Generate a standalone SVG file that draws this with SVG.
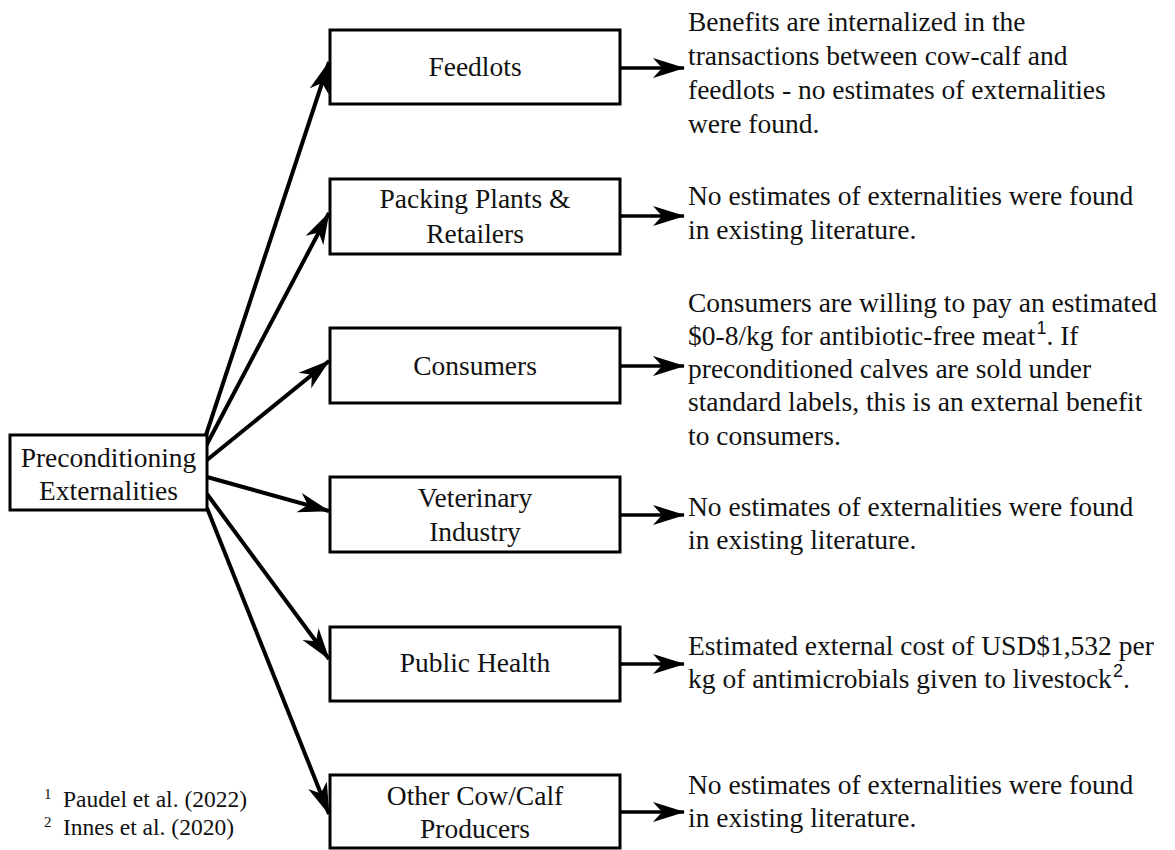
<svg xmlns="http://www.w3.org/2000/svg" width="1175" height="850" viewBox="0 0 1175 850">
<style>
  .box{fill:#fff;stroke:#000;stroke-width:3}
  .lbl{font-family:'Liberation Serif','Times New Roman',Times,'DejaVu Serif','Noto Serif',serif;font-size:27.5px;fill:#111;text-anchor:middle}
  .txt{font-family:'Liberation Serif','Times New Roman',Times,'DejaVu Serif','Noto Serif',serif;font-size:27.5px;fill:#111}
  .fn{font-family:'Liberation Serif','Times New Roman',Times,'DejaVu Serif','Noto Serif',serif;font-size:23.5px;fill:#111}
  .fnsup{font-family:'Liberation Serif','Times New Roman',Times,serif;font-size:15px;fill:#111}
  .sup{font-family:'Liberation Sans',Arial,sans-serif;font-size:18px}
  .edge{fill:none;stroke:#000;stroke-width:4;marker-end:url(#ah)}
  .edge2{fill:none;stroke:#000;stroke-width:3.5;marker-end:url(#ah)}
</style>
<defs>
  <marker id="ah" markerUnits="userSpaceOnUse" markerWidth="32" markerHeight="22" viewBox="0 0 32 22" refX="31" refY="11" orient="auto">
    <path d="M0,1 L32,11 L0,21 L9,11 z" fill="#000"/>
  </marker>
</defs>
<rect width="1175" height="850" fill="#fff"/>

<g id="connectors">
  <line class="edge" x1="205" y1="438" x2="329" y2="62"/>
  <line class="edge" x1="206" y1="446" x2="329" y2="213"/>
  <line class="edge" x1="207" y1="460" x2="329" y2="361"/>
  <line class="edge" x1="207" y1="477" x2="329" y2="511"/>
  <line class="edge" x1="207" y1="494" x2="329" y2="659"/>
  <line class="edge" x1="207" y1="508" x2="329" y2="814"/>
  <line class="edge2" x1="620" y1="68" x2="684" y2="68"/>
  <line class="edge2" x1="620" y1="216" x2="684" y2="216"/>
  <line class="edge2" x1="620" y1="366" x2="684" y2="366"/>
  <line class="edge2" x1="620" y1="515" x2="684" y2="515"/>
  <line class="edge2" x1="620" y1="664" x2="684" y2="664"/>
  <line class="edge2" x1="620" y1="812" x2="684" y2="812"/>
</g>

<g id="node-root">
  <rect class="box" x="10" y="435" width="197" height="75"/>
  <text class="lbl" x="108.5" y="467">Preconditioning</text>
  <text class="lbl" x="108.5" y="500">Externalities</text>
</g>

<g id="node-feedlots">
  <rect class="box" x="330" y="30" width="290" height="74"/>
  <text class="lbl" x="475" y="76">Feedlots</text>
</g>
<g id="node-packing">
  <rect class="box" x="330" y="179" width="290" height="75"/>
  <text class="lbl" x="475" y="208">Packing Plants &amp;</text>
  <text class="lbl" x="475" y="243">Retailers</text>
</g>
<g id="node-consumers">
  <rect class="box" x="330" y="328" width="290" height="75"/>
  <text class="lbl" x="475" y="375">Consumers</text>
</g>
<g id="node-veterinary">
  <rect class="box" x="330" y="477" width="290" height="75"/>
  <text class="lbl" x="475" y="507">Veterinary</text>
  <text class="lbl" x="475" y="541">Industry</text>
</g>
<g id="node-publichealth">
  <rect class="box" x="330" y="627" width="290" height="74"/>
  <text class="lbl" x="475" y="672">Public Health</text>
</g>
<g id="node-othercowcalf">
  <rect class="box" x="330" y="775" width="290" height="73"/>
  <text class="lbl" x="475" y="805">Other Cow/Calf</text>
  <text class="lbl" x="475" y="838">Producers</text>
</g>

<g id="text-feedlots">
  <text class="txt" x="688" y="31">Benefits are internalized in the</text>
  <text class="txt" x="688" y="65">transactions between cow-calf and</text>
  <text class="txt" x="688" y="99">feedlots - no estimates of externalities</text>
  <text class="txt" x="688" y="133">were found.</text>
</g>
<g id="text-packing">
  <text class="txt" x="688" y="205">No estimates of externalities were found</text>
  <text class="txt" x="688" y="239">in existing literature.</text>
</g>
<g id="text-consumers">
  <text class="txt" x="688" y="312">Consumers are willing to pay an estimated</text>
  <text class="txt" x="688" y="345">$0-8/kg for antibiotic-free meat<tspan class="sup" dx="1" dy="-11">1</tspan><tspan dy="11">. If</tspan></text>
  <text class="txt" x="688" y="378">preconditioned calves are sold under</text>
  <text class="txt" x="688" y="411">standard labels, this is an external benefit</text>
  <text class="txt" x="688" y="445">to consumers.</text>
</g>
<g id="text-veterinary">
  <text class="txt" x="688" y="516">No estimates of externalities were found</text>
  <text class="txt" x="688" y="549">in existing literature.</text>
</g>
<g id="text-publichealth">
  <text class="txt" x="688" y="655">Estimated external cost of USD$1,532 per</text>
  <text class="txt" x="688" y="688">kg of antimicrobials given to livestock<tspan class="sup" dx="1" dy="-11">2</tspan><tspan dy="11">.</tspan></text>
</g>
<g id="text-othercowcalf">
  <text class="txt" x="688" y="794">No estimates of externalities were found</text>
  <text class="txt" x="688" y="827">in existing literature.</text>
</g>

<g id="footnotes">
  <text class="fnsup" x="44" y="799">1</text>
  <text class="fn" x="63" y="807">Paudel et al. (2022)</text>
  <text class="fnsup" x="44" y="827">2</text>
  <text class="fn" x="63" y="835">Innes et al. (2020)</text>
</g>
</svg>
